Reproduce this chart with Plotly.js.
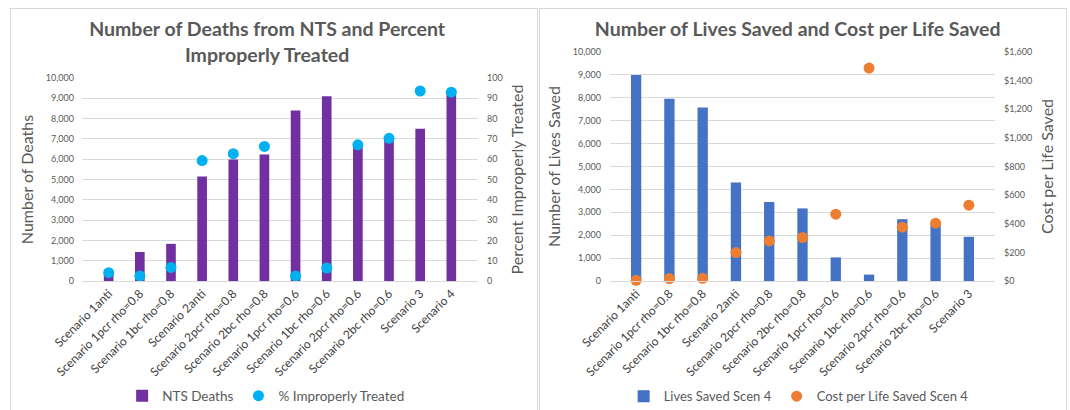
<!DOCTYPE html>
<html>
<head>
<meta charset="utf-8">
<script src="https://cdn.plot.ly/plotly-3.0.1.min.js"></script>
<style>
  html, body { margin: 0; padding: 0; background: #ffffff; overflow: hidden; }
  body { width: 1070px; height: 410px; position: relative; }
  .frame { position: absolute; border: 1px solid #d9d9d9; box-sizing: border-box; pointer-events: none; }
  .plot { position: absolute; }
</style>
</head>
<body>
<div id="deaths" class="plot" style="left:10px; top:8px; width:528px; height:410px;"></div>
<div id="saved" class="plot" style="left:539px; top:8px; width:528px; height:410px;"></div>
<div class="frame" style="left:10px; top:8px; width:528px; height:420px;"></div>
<div class="frame" style="left:539px; top:8px; width:528px; height:420px;"></div>
<script>
// Scenario names for the deaths / improper-treatment chart
const deathScenarios = [
  "Scenario 1anti", "Scenario 1pcr rho=0.8", "Scenario 1bc rho=0.8", "Scenario 2anti",
  "Scenario 2pcr rho=0.8", "Scenario 2bc rho=0.8", "Scenario 1pcr rho=0.6", "Scenario 1bc rho=0.6",
  "Scenario 2pcr rho=0.6", "Scenario 2bc rho=0.6", "Scenario 3", "Scenario 4"
];
// NTS deaths per scenario
const ntsDeaths = [450, 1430, 1830, 5150, 5980, 6230, 8400, 9100, 6650, 6950, 7500, 9250];
// Percent of cases improperly treated
const pctImproper = [4.1, 2.5, 6.7, 59.3, 62.7, 66.3, 2.5, 6.4, 67.1, 70.3, 93.6, 93.0];

// Scenario names for the lives-saved / cost chart
const savedScenarios = [
  "Scenario 1anti", "Scenario 1pcr rho=0.8", "Scenario 1bc rho=0.8", "Scenario 2anti",
  "Scenario 2pcr rho=0.8", "Scenario 2bc rho=0.8", "Scenario 1pcr rho=0.6", "Scenario 1bc rho=0.6",
  "Scenario 2pcr rho=0.6", "Scenario 2bc rho=0.6", "Scenario 3"
];
// Lives saved relative to Scenario 4
const livesSaved = [9000, 7960, 7580, 4300, 3450, 3170, 1030, 280, 2700, 2520, 1930];
// Cost per life saved relative to Scenario 4 (USD)
const costPerLife = [5, 17, 19, 199, 280, 304, 467, 1488, 376, 404, 530];

const FONT = "Lato, 'Open Sans', 'Liberation Sans', sans-serif";
const GREY = "#595959";
const GRID = "#d9d9d9";

function baseLayout() {
  return {
    paper_bgcolor: "#ffffff",
    plot_bgcolor: "#ffffff",
    font: { family: FONT, color: GREY },
    showlegend: true,
    bargap: 0.69,
    hovermode: false
  };
}

function xAxis() {
  return {
    type: "category",
    tickangle: -45,
    tickfont: { family: FONT, size: 12, color: "#404040" },
    showgrid: false,
    showline: true,
    linecolor: GRID,
    linewidth: 1,
    ticks: "",
    zeroline: false,
    automargin: false,
    fixedrange: true
  };
}

// Left: NTS deaths with percent improperly treated
const deathsLayout = Object.assign(baseLayout(), {
  width: 528, height: 410,
  margin: { l: 72, r: 60, t: 70, b: 137, pad: 0, autoexpand: false },
  title: {
    text: "<b>Number of Deaths from NTS and Percent<br>Improperly Treated</b>",
    font: { family: FONT, size: 19.5, color: GREY },
    x: 0.487, xref: "container", xanchor: "center",
    y: 0.931, yref: "container", yanchor: "middle",
    automargin: false
  },
  xaxis: xAxis(),
  yaxis: {
    range: [0, 10000], dtick: 1000, tickformat: ",",
    tickfont: { family: FONT, size: 9, color: GREY },
    gridcolor: GRID, gridwidth: 1, zeroline: false, showline: false,
    ticklabelstandoff: 7, automargin: false,
    title: { text: "Number of Deaths", font: { family: FONT, size: 16, color: GREY }, standoff: 8 },
    fixedrange: true
  },
  yaxis2: {
    overlaying: "y", side: "right",
    range: [0, 100], dtick: 10,
    tickfont: { family: FONT, size: 9, color: GREY },
    showgrid: false, zeroline: false, showline: false,
    ticklabelstandoff: 8, automargin: false,
    title: { text: "Percent Improperly Treated", font: { family: FONT, size: 16, color: GREY }, standoff: 10 },
    fixedrange: true
  },
  legend: {
    orientation: "h", x: 0.465, xanchor: "center", y: -0.566, yanchor: "middle",
    font: { family: FONT, size: 13.5, color: GREY },
    itemwidth: 30, tracegroupgap: 0
  }
});

const deathsData = [
  {
    type: "bar", name: "NTS Deaths",
    x: deathScenarios, y: ntsDeaths,
    marker: { color: "#7030a0" },
    yaxis: "y"
  },
  {
    type: "scatter", mode: "markers", name: "% Improperly Treated",
    x: deathScenarios, y: pctImproper,
    marker: { color: "#00b0f0", size: 11 },
    yaxis: "y2", cliponaxis: false
  }
];

// Right: lives saved with cost per life saved
const savedLayout = Object.assign(baseLayout(), {
  width: 528, height: 410,
  margin: { l: 71, r: 72, t: 44, b: 137, pad: 0, autoexpand: false },
  title: {
    text: "<b>Number of Lives Saved and Cost per Life Saved</b>",
    font: { family: FONT, size: 19.5, color: GREY },
    x: 0.49, xref: "container", xanchor: "center",
    y: 0.949, yref: "container", yanchor: "middle",
    automargin: false
  },
  xaxis: xAxis(),
  yaxis: {
    range: [0, 10000], dtick: 1000, tickformat: ",",
    tickfont: { family: FONT, size: 9, color: GREY },
    gridcolor: GRID, gridwidth: 1, zeroline: false, showline: false,
    ticklabelstandoff: 8, automargin: false,
    title: { text: "Number of Lives Saved", font: { family: FONT, size: 16, color: GREY }, standoff: 8 },
    fixedrange: true
  },
  yaxis2: {
    overlaying: "y", side: "right",
    range: [0, 1600], dtick: 200, tickprefix: "$", tickformat: ",",
    tickfont: { family: FONT, size: 9, color: GREY },
    showgrid: false, zeroline: false, showline: false,
    ticklabelstandoff: 8, automargin: false,
    title: { text: "Cost per Life Saved", font: { family: FONT, size: 16, color: GREY }, standoff: 10 },
    fixedrange: true
  },
  legend: {
    orientation: "h", x: 0.49, xanchor: "center", y: -0.503, yanchor: "middle",
    font: { family: FONT, size: 13, color: GREY },
    itemwidth: 30, tracegroupgap: 0
  }
});

const savedData = [
  {
    type: "bar", name: "Lives Saved Scen 4",
    x: savedScenarios, y: livesSaved,
    marker: { color: "#4472c4" },
    yaxis: "y"
  },
  {
    type: "scatter", mode: "markers", name: "Cost per Life Saved Scen 4",
    x: savedScenarios, y: costPerLife,
    marker: { color: "#ed7d31", size: 11 },
    yaxis: "y2", cliponaxis: false
  }
];

const config = { staticPlot: true, displayModeBar: false };
Plotly.newPlot("deaths", deathsData, deathsLayout, config);
Plotly.newPlot("saved", savedData, savedLayout, config);
</script>
</body>
</html>
